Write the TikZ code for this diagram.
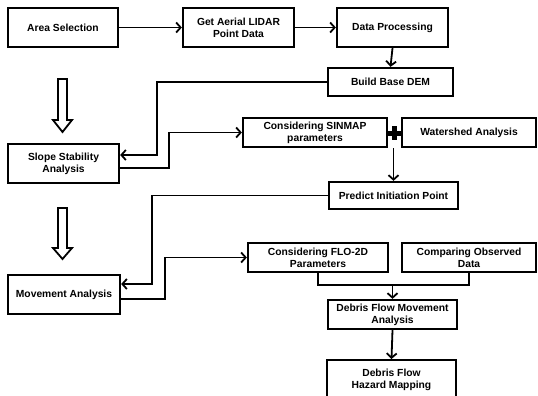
\documentclass[tikz,border=0pt]{standalone}
\usepackage{fontspec}
\setmainfont{Liberation Sans}
\usetikzlibrary{arrows.meta,calc}
\begin{document}
\begin{tikzpicture}[x=1pt,y=-1pt,
  box/.style={draw=black,line width=2.3pt,fill=white,inner sep=0pt,align=center,
    font=\fontsize{10.3}{12}\selectfont\bfseries,text=black},
  arr/.style={line width=1.8pt,-{Straight Barb[length=4.5pt,width=10pt,line width=1.8pt]}},
  ln/.style={line width=1.8pt},
  hollow/.style={draw=black,line width=1.8pt,fill=white}]
\useasboundingbox (0,0) rectangle (538,396);
\clip (0,0) rectangle (538,396);
\node[box,minimum width=110pt,minimum height=39pt] (area) at (63,27.5) {Area Selection};
\node[box,minimum width=111pt,minimum height=39pt] (lidar) at (238.5,27.5) {Get Aerial LIDAR\\Point Data};
\node[box,minimum width=111pt,minimum height=39pt] (dproc) at (392.5,27.5) {Data Processing};
\node[box,minimum width=125pt,minimum height=28pt] (dem) at (390.5,82) {Build Base DEM};
\node[box,minimum width=111pt,minimum height=39pt] (slope) at (63.5,163.5) {Slope Stability\\Analysis};
\node[box,minimum width=144pt,minimum height=29pt] (sinmap) at (315,132.5) {Considering SINMAP\\parameters};
\node[box,minimum width=134pt,minimum height=29pt] (water) at (469,132.5) {Watershed Analysis};
\node[box,minimum width=129pt,minimum height=27pt] (predict) at (393.5,195.5) {Predict Initiation Point};
\node[box,minimum width=112pt,minimum height=39pt] (move) at (64,294.5) {Movement Analysis};
\node[box,minimum width=140pt,minimum height=29pt] (flo) at (318,257.5) {Considering FLO-2D\\Parameters};
\node[box,minimum width=134pt,minimum height=29pt] (comp) at (469,257.5) {Comparing Observed\\Data};
\node[box,minimum width=129pt,minimum height=29pt] (dfm) at (392.5,314.5) {Debris Flow Movement\\Analysis};
\node[box,minimum width=129pt,minimum height=40pt,anchor=north] (haz) at (391.5,359) {Debris Flow\\Hazard Mapping};
% plus sign
\node[fill=black,minimum width=14pt,minimum height=5pt,inner sep=0pt] (plush) at (394.5,133) {};
\node[fill=black,minimum width=5pt,minimum height=14pt,inner sep=0pt] (plusv) at (394.5,133) {};
% connectors
\draw[arr] (area.east) -- (lidar.west);
\draw[arr] (lidar.east) -- (dproc.west);
\draw[arr] (dproc.south) -- (dem.north);
\draw[arr] (dem.west) -| (157,155) -- ([yshift=8.5pt]slope.east);
\draw[arr] ([yshift=-4.5pt]slope.east) -- ++(49,0) |- (sinmap.west);
\coordinate (jn) at (predict.north |- sinmap.south);
\draw[arr] (jn) -- (predict.north);
\draw[arr] (predict.west) -| (152,284) -- ([yshift=10.5pt]move.east);
\draw[arr] ([yshift=-4.5pt]move.east) -- ++(44,0) |- (flo.west);
\coordinate (mj) at (dfm.north |- 0,285);
\draw[ln] (flo.south) |- (mj) -| (comp.south);
\draw[arr] (mj) -- (dfm.north);
\draw[arr] (dfm.south) -- (haz.north);
% hollow block arrows
\draw[hollow] (58,79) -- (67,79) -- (67,120) -- (72,120) -- (62.5,132) -- (53,120) -- (58,120) -- cycle;
\draw[hollow] (58,208) -- (67,208) -- (67,248) -- (72,248) -- (62.5,259) -- (53,248) -- (58,248) -- cycle;
\end{tikzpicture}
\end{document}
